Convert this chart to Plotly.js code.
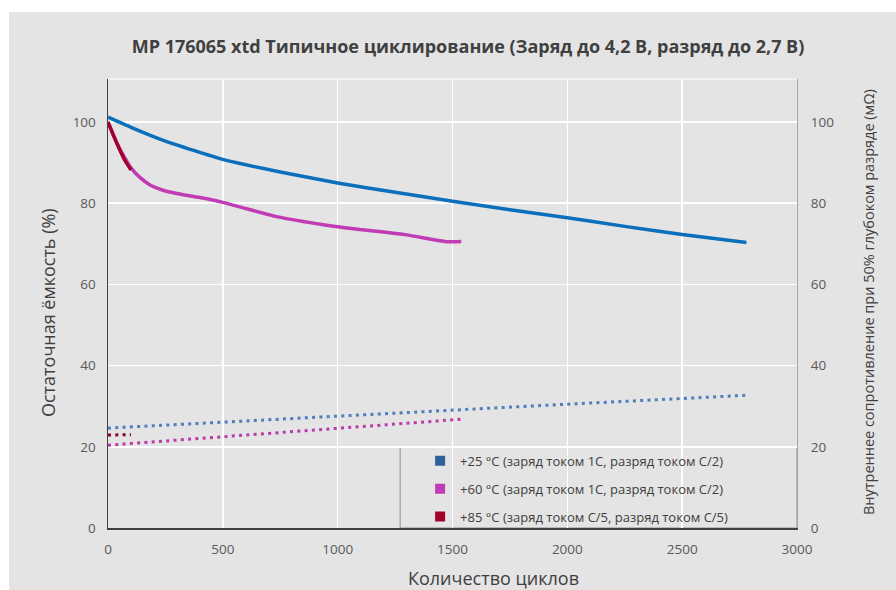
<!DOCTYPE html>
<html>
<head>
<meta charset="utf-8">
<script src="https://cdn.plot.ly/plotly-3.0.1.min.js"></script>
<style>
html,body{margin:0;padding:0;background:#ffffff;width:896px;height:590px;overflow:hidden;}
#plot{position:absolute;left:9px;top:12px;width:887px;height:578px;}
</style>
</head>
<body>
<div id="plot"></div>
<script>
// Capacity (%) vs cycles
const blueCycles = [0, 100, 250, 500, 750, 1000, 1250, 1500, 1750, 2000, 2250, 2500, 2780];
const blueCapacity = [101.2, 98.7, 95.3, 90.8, 87.7, 85.0, 82.7, 80.5, 78.4, 76.4, 74.3, 72.3, 70.3];

const magentaCycles = [0, 25, 50, 75, 100, 140, 183, 240, 300, 400, 500, 600, 734, 850, 951, 1096, 1200, 1300, 1400, 1473, 1538];
const magentaCapacity = [100, 96.5, 93.5, 91.0, 88.7, 86.3, 84.5, 83.2, 82.4, 81.4, 80.2, 78.7, 76.7, 75.5, 74.6, 73.5, 72.9, 72.2, 71.2, 70.5, 70.6];

const redCycles = [0, 25, 50, 75, 100];
const redCapacity = [100, 96.6, 93.3, 90.4, 88.2];

// Internal resistance (mΩ) vs cycles
const blueResCycles = [0, 500, 1000, 1500, 2000, 2500, 2780];
const blueResistance = [24.6, 26.1, 27.6, 29.1, 30.5, 31.9, 32.7];

const magentaResCycles = [0, 500, 1000, 1540];
const magentaResistance = [20.4, 22.5, 24.6, 26.8];

const redResCycles = [0, 50, 100];
const redResistance = [22.9, 22.95, 23.0];

const legendLabels = [
  "+25 °C (заряд током 1С, разряд током С/2)",
  "+60 °C (заряд током 1С, разряд током С/2)",
  "+85 °C (заряд током С/5, разряд током С/5)"
];
const yTicks = [0, 20, 40, 60, 80, 100];
const xTicks = [0, 500, 1000, 1500, 2000, 2500, 3000];

const colBlue = "#0b6fbb", colMag = "#c03bb4", colRed = "#a0002a";
const colBlueDot = "#4f7dbd", colMagDot = "#b93aaa", colRedDot = "#8c0022";
const legBlue = "#2f5f9c", legMag = "#c03bb8", legRed = "#a3002b";

const FONT = "Open Sans, Noto Sans, sans-serif";

const traces = [
  {x: blueCycles, y: blueCapacity, mode: "lines", line: {color: colBlue, width: 3.5, shape: "spline", smoothing: 0.5}, showlegend: false, hoverinfo: "skip"},
  {x: magentaCycles, y: magentaCapacity, mode: "lines", line: {color: colMag, width: 3.5, shape: "spline", smoothing: 0.5}, showlegend: false, hoverinfo: "skip"},
  {x: redCycles, y: redCapacity, mode: "lines", line: {color: colRed, width: 3.5, shape: "spline", smoothing: 0.5}, showlegend: false, hoverinfo: "skip"},
  {x: blueResCycles, y: blueResistance, yaxis: "y2", mode: "lines", line: {color: colBlueDot, width: 3, dash: "3px,4.3px"}, showlegend: false, hoverinfo: "skip"},
  {x: magentaResCycles, y: magentaResistance, yaxis: "y2", mode: "lines", line: {color: colMagDot, width: 3, dash: "3px,4.3px"}, showlegend: false, hoverinfo: "skip"},
  {x: redResCycles, y: redResistance, yaxis: "y2", mode: "lines", line: {color: colRedDot, width: 3, dash: "3px,4.3px"}, showlegend: false, hoverinfo: "skip"},
  {x: [null], y: [null], mode: "markers", marker: {symbol: "square", size: 10, color: legBlue}, name: legendLabels[0], legendgroup: "a"},
  {x: [null], y: [null], mode: "markers", marker: {symbol: "square", size: 10, color: legMag}, name: legendLabels[1], legendgroup: "b"},
  {x: [null], y: [null], mode: "markers", marker: {symbol: "square", size: 10, color: legRed}, name: legendLabels[2], legendgroup: "c"}
];

const layout = {
  width: 887, height: 578,
  margin: {l: 99, r: 99, t: 67, b: 62},
  paper_bgcolor: "#e4e4e4",
  plot_bgcolor: "#e4e4e4",
  font: {family: FONT, color: "#595959", size: 13},
  title: {
    text: "MP 176065 xtd Типичное циклирование (Заряд до 4,2 В, разряд до 2,7 В)",
    font: {family: FONT, size: 18, color: "#404040", weight: "bold"},
    xref: "container", x: 0.5175, xanchor: "center",
    yref: "container", y: 0.9394, yanchor: "middle"
  },
  xaxis: {
    range: [0, 3000], tickvals: xTicks, ticktext: xTicks.map(String),
    showgrid: true, gridcolor: "#ffffff", gridwidth: 1.5,
    showline: true, linecolor: "#404040", linewidth: 1.5,
    zeroline: false, ticks: "", ticklabelstandoff: 8,
    tickfont: {family: FONT, size: 13.5, color: "#595959"}
  },
  yaxis: {
    range: [0, 110.6], tickvals: yTicks, ticktext: yTicks.map(String),
    showgrid: true, gridcolor: "#ffffff", gridwidth: 1.5,
    showline: true, linecolor: "#404040", linewidth: 1.5,
    zeroline: false, ticks: "", ticklabelstandoff: 8,
    tickfont: {family: FONT, size: 13.5, color: "#595959"}
  },
  yaxis2: {
    overlaying: "y", side: "right",
    range: [0, 110.6], tickvals: yTicks, ticktext: yTicks.map(String),
    showgrid: false, showline: true, linecolor: "#a6a6a6", linewidth: 1,
    zeroline: false, ticks: "", ticklabelstandoff: 10,
    tickfont: {family: FONT, size: 13.5, color: "#595959"}
  },
  showlegend: true,
  legend: {
    x: 0.453, xanchor: "left", y: 0.183, yanchor: "top",
    bgcolor: "rgba(0,0,0,0)", borderwidth: 0,
    font: {family: FONT, size: 13, color: "#404040"},
    tracegroupgap: 8, itemwidth: 30
  },
  shapes: [
    {type: "rect", xref: "paper", yref: "paper", x0: 0.424, x1: 1, y0: 0, y1: 0.18,
     fillcolor: "#e4e4e4", line: {color: "#8c8c8c", width: 1}, layer: "between"},
    {type: "line", xref: "paper", yref: "paper", x0: 0, x1: 1, y0: 1, y1: 1,
     line: {color: "#f4f4f4", width: 1.5}}
  ],
  annotations: [
    {text: "Остаточная ёмкость (%)", xref: "paper", yref: "paper", x: -0.0871, y: 0.481,
     xanchor: "center", yanchor: "middle",
     textangle: -90, showarrow: false, font: {family: FONT, size: 18, color: "#404040"}},
    {text: "Внутреннее сопротивление при 50% глубоком разряде (мΩ)", xref: "paper", yref: "paper", x: 1.103, y: 0.503,
     xanchor: "center", yanchor: "middle",
     textangle: -90, showarrow: false, font: {family: FONT, size: 14.5, color: "#404040"}},
    {text: "Количество циклов", xref: "paper", yref: "paper", x: 0.5588, y: -0.111,
     xanchor: "center", yanchor: "middle",
     showarrow: false, font: {family: FONT, size: 18, color: "#404040"}}
  ]
};

Plotly.newPlot("plot", traces, layout, {displayModeBar: false, staticPlot: true});
</script>
</body>
</html>
